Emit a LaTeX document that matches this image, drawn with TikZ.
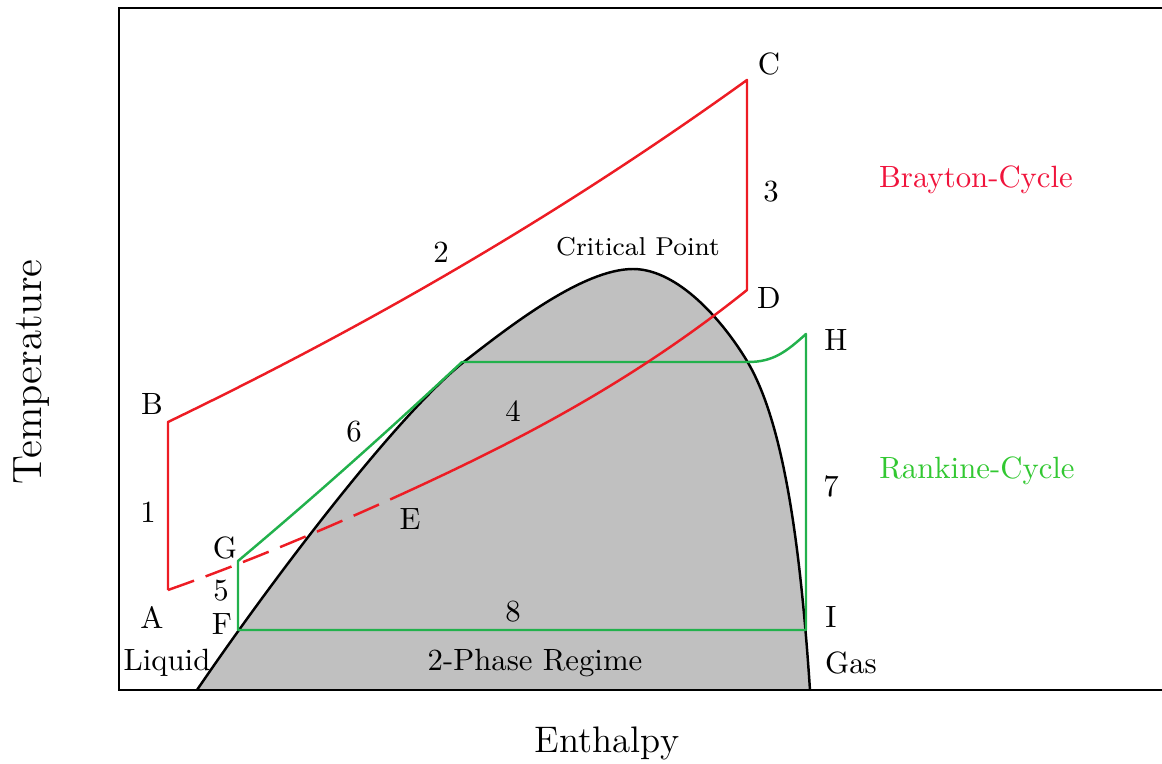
\documentclass[tikz,border=0pt]{standalone}
\usepackage{tikz}
\usetikzlibrary{positioning}
\definecolor{brayton}{RGB}{237,28,36}
\definecolor{rankine}{RGB}{34,177,76}
\definecolor{braytontxt}{RGB}{240,20,60}
\definecolor{rankinetxt}{RGB}{50,200,50}
\definecolor{dome}{RGB}{192,192,192}

\begin{document}
\begin{tikzpicture}[x=0.325pt, y=-0.325pt,
  cycleline/.style={line width=0.8pt, line join=round},
  lbl/.style={font=\normalsize, inner sep=0pt},
  axislabel/.style={inner sep=0pt},
]
\useasboundingbox (0,0) rectangle (1162,764);

% two-phase dome
\coordinate (dL) at (197,690);
\coordinate (d1) at (465,361);
\coordinate (cp) at (633,269);
\coordinate (d2) at (747,361);
\coordinate (dR) at (810,690);
\fill[dome] (dL) .. controls (265,590) and (395,416) .. (d1)
  .. controls (510,326) and (583,269) .. (cp)
  .. controls (678,269) and (723,321) .. (d2)
  .. controls (783,421) and (800,540) .. (dR) -- cycle;
\draw[line width=0.8pt] (dL) .. controls (265,590) and (395,416) .. (d1)
  .. controls (510,326) and (583,269) .. (cp)
  .. controls (678,269) and (723,321) .. (d2)
  .. controls (783,421) and (800,540) .. (dR);

% axes
\draw[line width=0.45pt] (1162,8) -- (119,8) -- (119,690) -- (1162,690);
\node[axislabel, font=\fontsize{13.3}{16}\selectfont, rotate=90] (ylab) at (32,372) {Temperature};
\node[axislabel, font=\fontsize{12}{14}\selectfont] (xlab) at (607,743) {Enthalpy};

% cycle points
\coordinate (A) at (168,590);
\coordinate (B) at (168,422);
\coordinate (C) at (747,80);
\coordinate (D) at (747,290);
\coordinate (E) at (400,495);
\coordinate (F) at (238,630);
\coordinate (G) at (238,561);
\coordinate (Gt) at (462,362);
\coordinate (Hb) at (748,362);
\coordinate (H) at (806,334);
\coordinate (I) at (806,630);

% Rankine
\draw[cycleline, rankine] (F) -- (G) .. controls +(75,-63) and +(-75,70) .. (Gt) -- (Hb)
  .. controls +(25,0) and +(-20,18) .. (H) -- (I) -- cycle;

% Brayton
\draw[cycleline, brayton] (A) -- (B) .. controls +(193,-93) and +(-193,139) .. (C) -- (D)
  .. controls +(-116,93) and +(116,-53) .. (E);
\draw[cycleline, brayton, dash pattern=on 9pt off 4pt] (A) .. controls +(77,-27) and +(-77,35) .. (E);

% point and step labels
\foreach \x/\y/\txt in {152/404/B, 152/617/A, 148/512/1, 769/64/C, 769/298/D, 771/192/3,
                        441/252/2, 513/411/4, 410/519/E, 225/548/G, 221/591/5, 222/624/F,
                        354/432/6, 836/340/H, 831/486/7, 831/617/I, 513/612/8} {
  \node[lbl] (l-\txt) at (\x,\y) {\txt};
}

% regions
\node[lbl] (liquid) at (167,663) {Liquid};
\node[lbl] (twophase) at (535,663) {2-Phase Regime};
\node[lbl] (gas) at (851,663) {Gas};
\node[lbl, font=\fontsize{8.4}{10}\selectfont] (crit) at (638,247) {Critical Point};

% legend
\node[lbl, text=braytontxt] (bcyc) at (976,180) {Brayton-Cycle};
\node[lbl, text=rankinetxt] (rcyc) at (977,471) {Rankine-Cycle};
\end{tikzpicture}
\end{document}
